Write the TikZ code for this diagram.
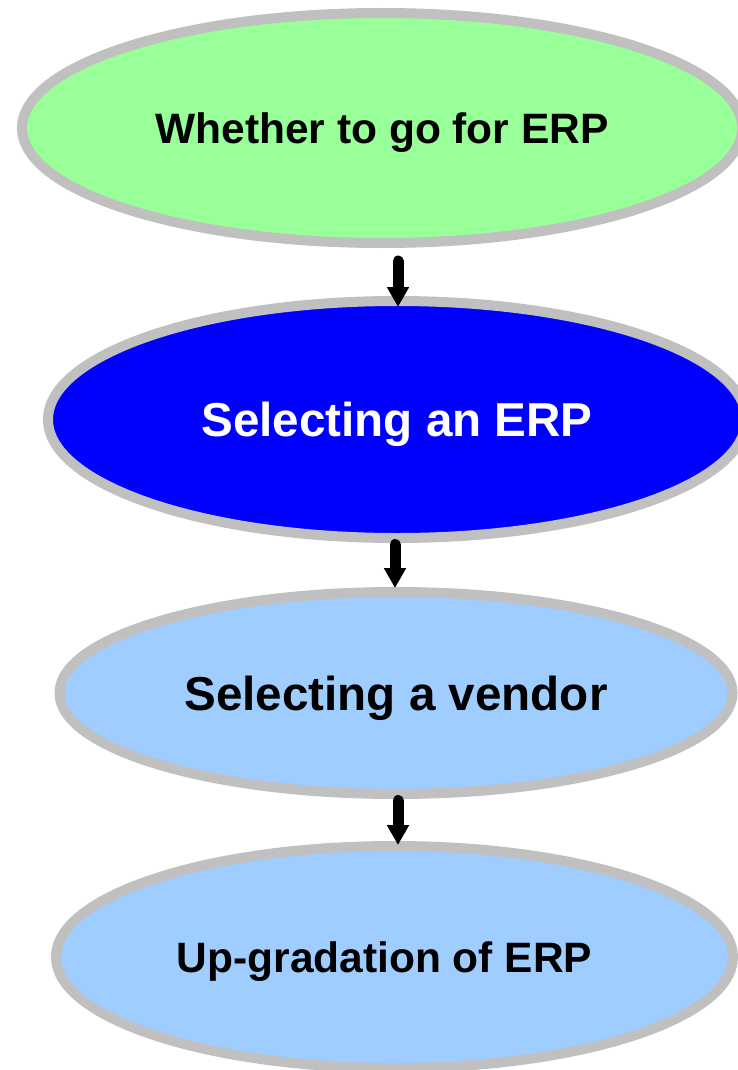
\documentclass[tikz,border=0pt]{standalone}
\usepackage{fontspec}
\setmainfont{Liberation Sans}
\usepackage{tikz}
\usetikzlibrary{shapes.geometric, arrows.meta, calc}

\definecolor{rimgray}{RGB}{192,192,192}
\definecolor{stagegreen}{RGB}{153,255,153}
\definecolor{stageblue}{RGB}{0,0,255}
\definecolor{stagesky}{RGB}{160,205,255}

\begin{document}
\begin{tikzpicture}[
                x=1pt, y=-1pt,
                stage/.style={ellipse, draw=rimgray, line width=10pt, inner sep=0pt}, % Grey rimmed ellipse
                smalltext/.style={font=\bfseries\fontsize{42.5}{50}\selectfont, text height=30.4pt, text depth=0pt},
                bigtext/.style={font=\bfseries\fontsize{47.6}{56}\selectfont, text height=34.1pt, text depth=0pt},
                flowarrow/.style={line width=11pt, line cap=round, -{Triangle[width=21pt, length=20pt]}} % Thick arrow
                ]
                \path[use as bounding box, fill=white] (0,0) rectangle (738,1070);

                \node[stage, smalltext, fill=stagegreen, minimum width=720pt, minimum height=230pt] (whether) at (382,128) {Whether to go for ERP};
                \node[stage, bigtext, fill=stageblue, text=white, minimum width=698pt, minimum height=237pt] (selerp) at (397,419.5) {Selecting an ERP};
                \node[stage, bigtext, fill=stagesky, minimum width=673pt, minimum height=202pt] (vendor) at (396,693) {Selecting a vendor};
                \node[stage, smalltext, fill=stagesky, minimum width=677pt, minimum height=222pt] (upgrade) at (394.5,957) {Up-gradation of ERP\hspace*{20pt}};

                \draw[flowarrow] ($(whether.south -| selerp.north)+(1,13)$) -- ($(selerp.north)+(1,11)$);
                \draw[flowarrow] ($(selerp.south)+(-2,1.5)$) -- ($(vendor.north)+(-1,1)$);
                \draw[flowarrow] ($(vendor.south)+(2,1.5)$) -- ($(upgrade.north)+(3.5,4)$);
            \end{tikzpicture}
\end{document}
